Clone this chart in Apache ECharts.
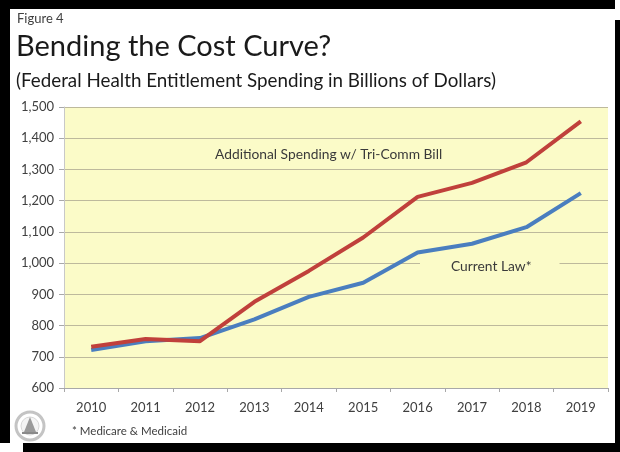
<!DOCTYPE html>
<html>
<head>
<meta charset="utf-8">
<script src="https://cdn.jsdelivr.net/npm/echarts@6/dist/echarts.min.js"></script>
<style>
  html, body { margin: 0; padding: 0; background: #ffffff; }
  #chart { width: 620px; height: 452px; }
</style>
</head>
<body>
<div id="chart"></div>
<script>
// Federal health entitlement spending, billions of dollars
const years = ['2010', '2011', '2012', '2013', '2014', '2015', '2016', '2017', '2018', '2019'];
const withBill = [732, 757, 750, 876, 975, 1082, 1212, 1257, 1323, 1454];
const currentLaw = [722, 750, 760, 820, 892, 937, 1034, 1062, 1115, 1224];
const yTicks = { min: 600, max: 1500, step: 100 };

const FONT = 'Lato, "Open Sans", sans-serif';
const chart = echarts.init(document.getElementById('chart'), null, { renderer: 'canvas' });

chart.setOption({
  backgroundColor: '#ffffff',
  animation: false,
  grid: { left: 64, right: 12, top: 107, bottom: 64 },
  xAxis: {
    type: 'category',
    data: years,
    boundaryGap: true,
    axisLine: { lineStyle: { color: '#a8a8a8', width: 1 } },
    axisTick: { show: true, length: 4, lineStyle: { color: '#a8a8a8' } },
    axisLabel: { color: '#404040', fontFamily: FONT, fontSize: 13, margin: 13 }
  },
  yAxis: {
    type: 'value',
    min: yTicks.min,
    max: yTicks.max,
    interval: yTicks.step,
    axisLine: { show: true, lineStyle: { color: '#c8c8c8', width: 1 } },
    axisTick: { show: true, length: 5, lineStyle: { color: '#a8a8a8' } },
    axisLabel: {
      color: '#404040', fontFamily: FONT, fontSize: 13, margin: 10,
      formatter: v => v.toLocaleString('en-US')
    },
    splitLine: { show: true, lineStyle: { color: '#bdb99c', width: 1 } },
    splitArea: { show: true, areaStyle: { color: ['#fbfbc8'] } }
  },
  series: [
    {
      name: 'Additional Spending w/ Tri-Comm Bill',
      type: 'line',
      data: withBill,
      symbol: 'none',
      z: 3,
      lineStyle: { color: '#c0403b', width: 4, join: 'round' }
    },
    {
      name: 'Current Law',
      type: 'line',
      data: currentLaw,
      symbol: 'none',
      z: 2,
      lineStyle: { color: '#4a7ebf', width: 4, join: 'round' }
    }
  ],
  graphic: [
    // drop shadow and frame
    { type: 'rect', z: -10, shape: { x: 23, y: 20, width: 597, height: 432 }, style: { fill: '#000000' } },
    { type: 'rect', z: -9, shape: { x: 0, y: 0, width: 615, height: 443 }, style: { fill: '#000000' } },
    { type: 'rect', z: -8, shape: { x: 10, y: 9, width: 605, height: 434 }, style: { fill: '#ffffff' } },
    // headings
    { type: 'text', left: 17, top: 12, style: { text: 'Figure 4', fill: '#404040', font: '13px ' + FONT } },
    { type: 'text', left: 16, top: 32, style: { text: 'Bending the Cost Curve?', fill: '#1a1a1a', font: '29px ' + FONT } },
    { type: 'text', left: 16, top: 71, style: { text: '(Federal Health Entitlement Spending in Billions of Dollars)', fill: '#1a1a1a', font: '18.8px ' + FONT } },
    // series annotations
    { type: 'text', left: 215, top: 148, z: 10, style: { text: 'Additional Spending w/ Tri-Comm Bill', fill: '#3a3a3a', font: '13.8px ' + FONT } },
    { type: 'text', left: 420, top: 256, z: 10, style: { text: 'Current Law*', fill: '#3a3a3a', font: '13.8px ' + FONT, backgroundColor: '#fbfbc8', padding: [4, 28, 4, 31] } },
    // footnote
    { type: 'text', left: 72, top: 425, style: { text: '* Medicare & Medicaid', fill: '#404040', font: '11.5px ' + FONT } },
    // seal
    { type: 'circle', shape: { cx: 30, cy: 426, r: 14 }, style: { fill: 'none', stroke: '#c4c4c4', lineWidth: 3 } },
    { type: 'circle', shape: { cx: 30, cy: 426, r: 9 }, style: { fill: '#f4f4f4', stroke: '#d8d8d8', lineWidth: 1 } },
    { type: 'polygon', shape: { points: [[30, 417], [24, 432], [36, 432]] }, style: { fill: '#9a9a9a' } },
    { type: 'rect', shape: { x: 22, y: 432, width: 16, height: 2 }, style: { fill: '#8a8a8a' } }
  ]
});
</script>
</body>
</html>
